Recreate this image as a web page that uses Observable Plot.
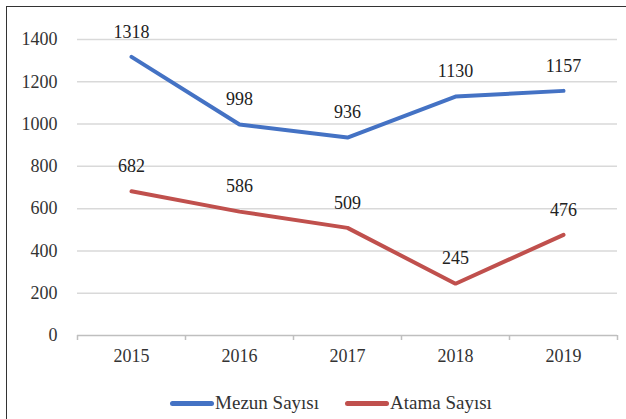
<!DOCTYPE html>
<html>
<head>
<meta charset="utf-8">
<script src="https://cdn.jsdelivr.net/npm/d3@7"></script>
<script src="https://cdn.jsdelivr.net/npm/@observablehq/plot@0.6"></script>
<style>
  html, body { margin: 0; padding: 0; background: #fff; font-family: 'Liberation Serif'; }
  #wrap { position: relative; width: 626px; height: 419px; overflow: hidden; font-family: 'Liberation Serif'; }
  #frame { position: absolute; left: 6px; top: 6px; width: 700px; height: 500px; border-top: 1.5px solid #333; border-left: 1.5px solid #333; pointer-events: none; }
  #chart { position: absolute; left: 0; top: 0; }
  #chart svg, #chart svg text { font-family: 'Liberation Serif' !important; }
  #legend { position: absolute; left: 36px; top: 392px; width: 590px; display: flex; justify-content: center; gap: 26px; font-size: 19px; color: #333; font-family: 'Liberation Serif'; }
  .item { display: flex; align-items: center; }
  .sw { width: 44px; height: 5px; border-radius: 2.5px; margin-right: 1px; }
</style>
</head>
<body>
<div id="wrap">
  <div id="chart"></div>
  <div id="frame"></div>
  <div id="legend"></div>
</div>
<script>
const years = ["2015", "2016", "2017", "2018", "2019"];
const mezun = [1318, 998, 936, 1130, 1157];
const atama = [682, 586, 509, 245, 476];
const seriesNames = ["Mezun Sayısı", "Atama Sayısı"];
const seriesColors = ["#4472C4", "#C0504D"];
const yTicks = [0, 200, 400, 600, 800, 1000, 1200, 1400];

const data = [
  ...years.map((y, i) => ({year: y, value: mezun[i], series: seriesNames[0]})),
  ...years.map((y, i) => ({year: y, value: atama[i], series: seriesNames[1]}))
];

const W = 626, H = 390, mL = 77, mR = 9, mT = 39, mB = 55;
const step = (W - mL - mR) / years.length;
const serif = "Liberation Serif";

const chart = Plot.plot({
  width: W,
  height: H,
  marginLeft: mL,
  marginRight: mR,
  marginTop: mT,
  marginBottom: mB,
  style: {fontFamily: serif, fontSize: "18px", color: "#333", background: "transparent"},
  x: {type: "point", domain: years, padding: 0.5},
  y: {domain: [0, 1400]},
  color: {domain: seriesNames, range: seriesColors},
  marks: [
    Plot.ruleY(yTicks.filter(d => d > 0), {y: d => d, stroke: "#d9d9d9", strokeWidth: 1.5}),
    Plot.ruleY([0], {stroke: "#bfbfbf", strokeWidth: 1.5}),
    Plot.ruleX(years, {x: d => d, dx: -step / 2, y1: 0, y2: 0, insetBottom: -5, stroke: "#bfbfbf", strokeWidth: 1.5}),
    Plot.ruleX([years[years.length - 1]], {x: d => d, dx: step / 2, y1: 0, y2: 0, insetBottom: -5, stroke: "#bfbfbf", strokeWidth: 1.5}),
    Plot.axisY(yTicks, {tickSize: 0, tickPadding: 20, fontSize: 18, tickFormat: d => String(d), label: null}),
    Plot.axisX(years, {tickSize: 0, tickPadding: 14, fontSize: 18, label: null}),
    Plot.line(data, {x: "year", y: "value", z: "series", stroke: "series", strokeWidth: 4, strokeLinejoin: "miter", strokeLinecap: "round"}),
    Plot.text(data, {x: "year", y: "value", text: d => String(d.value), dy: -25, fontSize: 18, fill: "#222"})
  ]
});
document.getElementById("chart").appendChild(chart);

const legend = document.getElementById("legend");
seriesNames.forEach((n, i) => {
  const it = document.createElement("div");
  it.className = "item";
  const sw = document.createElement("div");
  sw.className = "sw";
  sw.style.background = seriesColors[i];
  const lb = document.createElement("span");
  lb.textContent = n;
  it.appendChild(sw);
  it.appendChild(lb);
  legend.appendChild(it);
});
</script>
</body>
</html>
